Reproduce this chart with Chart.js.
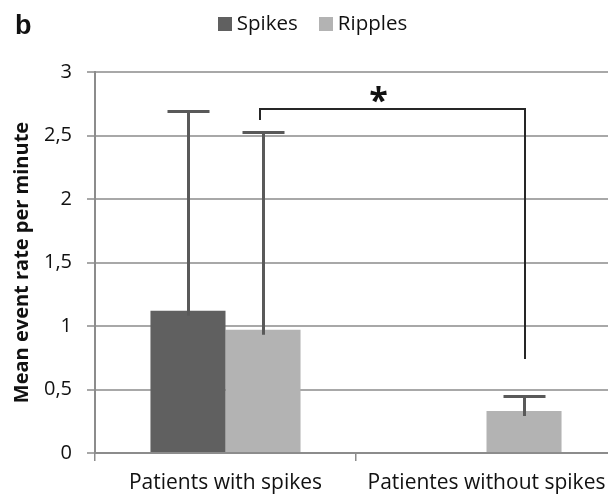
<!DOCTYPE html>
<html>
<head>
<meta charset="utf-8">
<script src="https://cdn.jsdelivr.net/npm/chart.js@4/dist/chart.umd.min.js"></script>
<style>
  html, body { margin: 0; padding: 0; overflow: hidden; background: #fff; }
  #wrap { width: 608px; height: 497px; overflow: hidden; }
  canvas { display: block; }
</style>
</head>
<body>
<div id="wrap"><canvas id="chart" width="625" height="497"></canvas></div>
<script>
// Event rates per group (mean and standard deviation)
const categories = ['Patients with spikes', 'Patientes without spikes'];
const seriesNames = ['Spikes', 'Ripples'];
const spikesMean = [1.12, 0];
const ripplesMean = [0.97, 0.33];
const spikesSD = [1.57, 0];
const ripplesSD = [1.56, 0.12];
const yTickLabels = ['0', '0,5', '1', '1,5', '2', '2,5', '3'];
// Significance bracket levels: left leg end, bracket bar, right leg end
const bracketLevels = [2.62, 2.71, 0.74];
const bracketMark = '*';
const panelLetter = 'b';
const yTitle = 'Mean event rate per minute';

const FONT = "'Open Sans', sans-serif";
const colors = ['#606060', '#b3b3b3'];

// Upward error bars with caps
const errorBars = {
  id: 'errorBars',
  afterDatasetsDraw(chart) {
    const ctx = chart.ctx, y = chart.scales.y;
    const means = [spikesMean, ripplesMean];
    const sds = [spikesSD, ripplesSD];
    ctx.save();
    ctx.strokeStyle = '#595959';
    ctx.lineWidth = 3;
    chart.data.datasets.forEach((ds, i) => {
      chart.getDatasetMeta(i).data.forEach((bar, j) => {
        const sd = sds[i][j];
        if (!sd) return;
        const x = Math.round(bar.x) + 0.5;
        const yTop = Math.round(y.getPixelForValue(means[i][j] + sd)) + 0.5;
        const yBot = y.getPixelForValue(means[i][j]) + 5;
        ctx.beginPath();
        ctx.moveTo(x, yBot); ctx.lineTo(x, yTop);
        ctx.moveTo(x - 21, yTop); ctx.lineTo(x + 21, yTop);
        ctx.stroke();
      });
    });
    ctx.restore();
  }
};

// Significance bracket between the two ripple bars, plus panel letter and legend
const annotations = {
  id: 'annotations',
  afterDraw(chart) {
    const ctx = chart.ctx, y = chart.scales.y;
    const ripples = chart.getDatasetMeta(1).data;
    const xl = Math.round(ripples[0].x) - 3;
    const xr = Math.round(ripples[1].x) + 1;
    const [yl, yb, yr] = bracketLevels.map(v => Math.round(y.getPixelForValue(v)));
    ctx.save();
    ctx.strokeStyle = '#262626';
    ctx.lineWidth = 2;
    ctx.beginPath();
    ctx.moveTo(xl, yl); ctx.lineTo(xl, yb); ctx.lineTo(xr, yb); ctx.lineTo(xr, yr);
    ctx.stroke();

    // star above the bracket
    ctx.fillStyle = '#111';
    ctx.font = `bold 34px ${FONT}`;
    ctx.textAlign = 'center';
    ctx.textBaseline = 'alphabetic';
    const m = ctx.measureText(bracketMark);
    const cy = yb - 15;
    const base = cy + (m.actualBoundingBoxAscent - m.actualBoundingBoxDescent) / 2;
    ctx.fillText(bracketMark, xl + (xr - xl) * 0.447, base);

    // panel letter
    ctx.font = "bold 27px 'Liberation Sans', Arial, sans-serif";
    ctx.textAlign = 'left';
    ctx.fillText(panelLetter, 15, 34);

    // legend
    ctx.font = `20.5px ${FONT}`;
    ctx.textBaseline = 'middle';
    const box = 14, gap = 5, spacing = 21;
    const items = chart.data.datasets.map(d => ({ label: d.label, color: d.backgroundColor, w: ctx.measureText(d.label).width }));
    const total = items.reduce((s, it) => s + box + gap + it.w, 0) + spacing * (items.length - 1);
    let x = chart.width / 2 - total / 2;
    items.forEach(it => {
      ctx.fillStyle = it.color;
      ctx.fillRect(Math.round(x), 17, box, box);
      ctx.fillStyle = '#111';
      ctx.fillText(it.label, x + box + gap, 24);
      x += box + gap + it.w + spacing;
    });
    ctx.restore();
  }
};

new Chart(document.getElementById('chart'), {
  type: 'bar',
  data: {
    labels: categories,
    datasets: [
      { label: seriesNames[0], data: spikesMean, backgroundColor: colors[0] },
      { label: seriesNames[1], data: ripplesMean, backgroundColor: colors[1] }
    ]
  },
  options: {
    responsive: false,
    animation: false,
    events: [],
    categoryPercentage: 0.575,
    barPercentage: 1.0,
    layout: { padding: { top: 72, right: 8, bottom: 0, left: 0 } },
    plugins: {
      legend: { display: false },
      tooltip: { enabled: false }
    },
    scales: {
      x: {
        grid: { display: true, offset: true, drawOnChartArea: false, drawTicks: true, tickLength: 8, color: '#8c8c8c', lineWidth: 1.5 },
        border: { display: true, color: '#8c8c8c', width: 2 },
        ticks: { color: '#111', font: { family: FONT, size: 21 }, padding: 9, maxRotation: 0, autoSkip: false },
        afterFit(scale) { scale.height = 44; }
      },
      y: {
        min: 0, max: 3,
        ticks: {
          stepSize: 0.5,
          color: '#111',
          font: { family: FONT, size: 20 },
          padding: 15,
          callback: (v) => yTickLabels[Math.round(v * 2)]
        },
        grid: { color: '#a8a8a8', lineWidth: 2, drawTicks: true, tickLength: 8 },
        border: { display: true, color: '#8c8c8c', width: 2 },
        title: {
          display: true,
          text: yTitle,
          color: '#111',
          font: { family: FONT, size: 20, weight: 'bold' },
          padding: { top: 10, bottom: 0 }
        },
        afterFit(scale) { scale.width = 95; }
      }
    }
  },
  plugins: [errorBars, annotations]
});
</script>
</body>
</html>
